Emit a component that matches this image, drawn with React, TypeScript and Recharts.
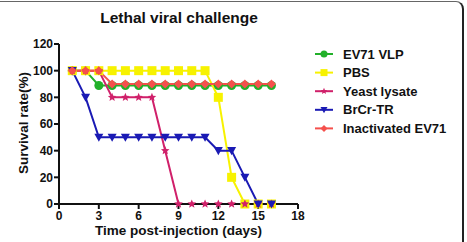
import { Line, LineChart, XAxis, YAxis } from "recharts"

const days = [1, 2, 3, 4, 5, 6, 7, 8, 9, 10, 11, 12, 13, 14, 15, 16]
const ev71Vlp = [100, 100, 88.9, 88.9, 88.9, 88.9, 88.9, 88.9, 88.9, 88.9, 88.9, 88.9, 88.9, 88.9, 88.9, 88.9]
const pbs = [100, 100, 100, 100, 100, 100, 100, 100, 100, 100, 100, 80, 20, 0, 0, 0]
const yeastLysate = [100, 100, 100, 80, 80, 80, 80, 40, 0, 0, 0, 0, 0, 0, 0, 0]
const brcrTr = [100, 80, 50, 50, 50, 50, 50, 50, 50, 50, 50, 40, 40, 20, 0, 0]
const inactivatedEv71 = [100, 100, 100, 90, 90, 90, 90, 90, 90, 90, 90, 90, 90, 90, 90, 90]

const xTicks = [0, 3, 6, 9, 12, 15, 18]
const yTicks = [0, 20, 40, 60, 80, 100, 120]

const data = days.map((d, i) => ({
  day: d,
  vlp: ev71Vlp[i],
  pbs: pbs[i],
  yeast: yeastLysate[i],
  brcr: brcrTr[i],
  inact: inactivatedEv71[i],
}))

type Shape = "circle" | "square" | "star" | "triDown" | "diamond"

const series: { key: string; name: string; color: string; shape: Shape }[] = [
  { key: "vlp", name: "EV71 VLP", color: "#22b02a", shape: "circle" },
  { key: "pbs", name: "PBS", color: "#f7f200", shape: "square" },
  { key: "yeast", name: "Yeast lysate", color: "#d0206a", shape: "star" },
  { key: "brcr", name: "BrCr-TR", color: "#1a1ab4", shape: "triDown" },
  { key: "inact", name: "Inactivated EV71", color: "#f5504c", shape: "diamond" },
]

const FONT = "'Liberation Sans', Arial, sans-serif"

function marker(shape: Shape, cx: number, cy: number, color: string, r = 4.5) {
  switch (shape) {
    case "circle":
      return <circle cx={cx} cy={cy} r={r} fill={color} />
    case "square":
      return <rect x={cx - r} y={cy - r} width={r * 2} height={r * 2} fill={color} />
    case "star": {
      const pts: string[] = []
      for (let k = 0; k < 10; k++) {
        const a = (Math.PI / 5) * k - Math.PI / 2
        const rr = k % 2 === 0 ? r : r * 0.45
        pts.push(`${cx + rr * Math.cos(a)},${cy + rr * Math.sin(a)}`)
      }
      return <polygon points={pts.join(" ")} fill={color} />
    }
    case "triDown":
      return (
        <polygon
          points={`${cx - r},${cy - r * 0.8} ${cx + r},${cy - r * 0.8} ${cx},${cy + r}`}
          fill={color}
        />
      )
    case "diamond":
      return (
        <polygon
          points={`${cx},${cy - r} ${cx + r},${cy} ${cx},${cy + r} ${cx - r},${cy}`}
          fill={color}
        />
      )
  }
}

function makeDot(shape: Shape, color: string) {
  return (props: any) => {
    const { cx, cy, index } = props
    if (cx == null || cy == null) return <g key={index} />
    return <g key={index}>{marker(shape, cx, cy, color)}</g>
  }
}

function SeriesLegend() {
  return (
    <svg
      width={150}
      height={100}
      style={{ position: "absolute", left: 313, top: 46, fontFamily: FONT }}
    >
      {series.map((s, i) => {
        const y = 8 + i * 18.6
        return (
          <g key={s.key}>
            <line x1={2} x2={20} y1={y} y2={y} stroke={s.color} strokeWidth={2} />
            {marker(s.shape, 11, y, s.color, 3.5)}
            <text x={30} y={y + 4.5} fontSize={13} fontWeight={700} fill="#111">
              {s.name}
            </text>
          </g>
        )
      })}
    </svg>
  )
}

const tickStyle = { fontSize: 12, fontWeight: 700, fill: "#111", fontFamily: FONT }

export default function App() {
  return (
    <div
      style={{
        position: "absolute",
        left: 0,
        top: 0,
        width: 467,
        height: 242,
        background: "#fff",
        overflow: "hidden",
        fontFamily: FONT,
      }}
    >
      {/* frame */}
      <div
        style={{
          position: "absolute",
          left: -20,
          top: 1,
          width: 484,
          height: 280,
          borderTop: "1.5px solid #666",
          borderRight: "2px solid #222",
          borderTopRightRadius: 8,
          boxSizing: "border-box",
        }}
      />
      <div
        style={{
          position: "absolute",
          left: 0,
          width: 358,
          top: 9,
          textAlign: "center",
          fontSize: 15.5,
          fontWeight: 700,
          color: "#111",
        }}
      >
        Lethal viral challenge
      </div>
      <LineChart
        width={467}
        height={242}
        data={data}
        margin={{ top: 44, right: 169, left: 27, bottom: 6 }}
        style={{ position: "absolute", left: 0, top: 0 }}
      >
        <XAxis
          dataKey="day"
          type="number"
          domain={[0, 18]}
          ticks={xTicks}
          interval={0}
          tick={tickStyle}
          tickSize={5}
          tickMargin={2}
          height={32}
          axisLine={{ stroke: "#111", strokeWidth: 2 }}
          tickLine={{ stroke: "#111", strokeWidth: 2 }}
          label={{
            value: "Time post-injection (days)",
            position: "insideBottom",
            offset: 1,
            style: { fontSize: 13.5, fontWeight: 700, fill: "#111", fontFamily: FONT },
          }}
        />
        <YAxis
          type="number"
          domain={[0, 120]}
          ticks={yTicks}
          interval={0}
          tick={tickStyle}
          tickSize={5}
          tickMargin={1}
          width={32}
          axisLine={{ stroke: "#111", strokeWidth: 2 }}
          tickLine={{ stroke: "#111", strokeWidth: 2 }}
          label={{
            value: "Survival rate(%)",
            angle: -90,
            position: "insideLeft",
            offset: -4,
            dy: 50,
            style: { fontSize: 13.5, fontWeight: 700, fill: "#111", fontFamily: FONT },
          }}
        />
        {series.map((s) => (
          <Line
            key={s.key}
            dataKey={s.key}
            name={s.name}
            type="linear"
            stroke={s.color}
            strokeWidth={2}
            dot={makeDot(s.shape, s.color)}
            activeDot={false}
            isAnimationActive={false}
          />
        ))}
      </LineChart>
      <SeriesLegend />
    </div>
  )
}
